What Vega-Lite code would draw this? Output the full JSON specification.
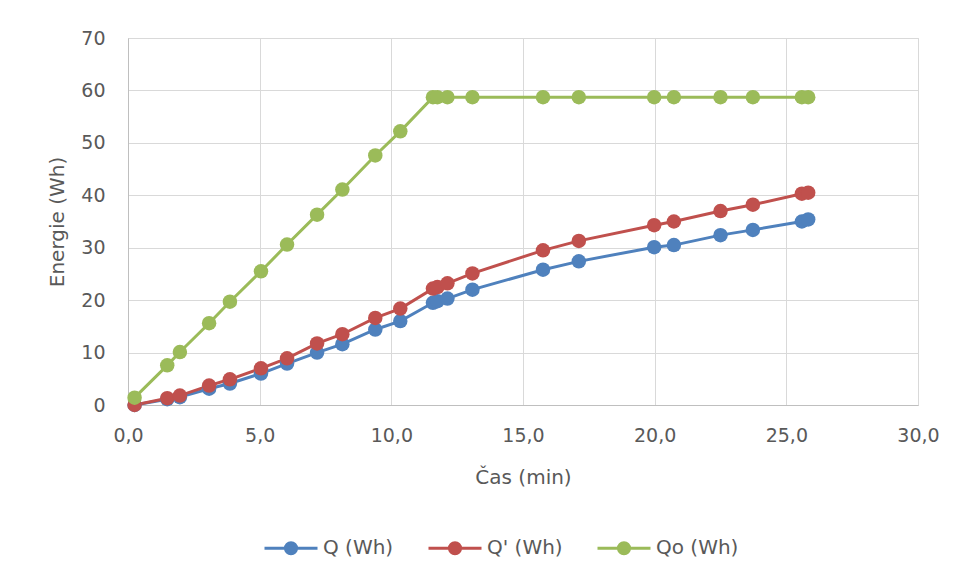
{
  "$schema": "https://vega.github.io/schema/vega-lite/v6.json",
  "width": 790,
  "height": 367,
  "autosize": {"type": "none"},
  "padding": {"left": 128, "top": 38, "right": 42, "bottom": 174},
  "background": "white",
  "config": {
    "font": "DejaVu Sans",
    "view": {"stroke": "#d9d9d9", "strokeWidth": 1},
    "axis": {
      "gridColor": "#d9d9d9",
      "gridWidth": 1,
      "domainColor": "#bfbfbf",
      "domainWidth": 1,
      "ticks": false,
      "labelFlush": false,
      "labelColor": "#595959",
      "labelFontSize": 19,
      "titleColor": "#595959",
      "titleFontSize": 20,
      "titleFontWeight": "normal"
    }
  },
  "data": {
    "values": [
      {"t": 0.25, "series": "Q (Wh)", "v": 0},
      {"t": 1.49, "series": "Q (Wh)", "v": 1.1},
      {"t": 1.97, "series": "Q (Wh)", "v": 1.5},
      {"t": 3.08, "series": "Q (Wh)", "v": 3.1},
      {"t": 3.87, "series": "Q (Wh)", "v": 4.1},
      {"t": 5.05, "series": "Q (Wh)", "v": 6.0},
      {"t": 6.04, "series": "Q (Wh)", "v": 7.9},
      {"t": 7.18, "series": "Q (Wh)", "v": 10.0},
      {"t": 8.14, "series": "Q (Wh)", "v": 11.6},
      {"t": 9.39, "series": "Q (Wh)", "v": 14.4},
      {"t": 10.34, "series": "Q (Wh)", "v": 16.0},
      {"t": 11.58, "series": "Q (Wh)", "v": 19.5},
      {"t": 11.75, "series": "Q (Wh)", "v": 19.8},
      {"t": 12.13, "series": "Q (Wh)", "v": 20.3},
      {"t": 13.08, "series": "Q (Wh)", "v": 22.0},
      {"t": 15.76, "series": "Q (Wh)", "v": 25.8},
      {"t": 17.12, "series": "Q (Wh)", "v": 27.4},
      {"t": 19.98, "series": "Q (Wh)", "v": 30.1},
      {"t": 20.73, "series": "Q (Wh)", "v": 30.5},
      {"t": 22.5, "series": "Q (Wh)", "v": 32.4},
      {"t": 23.73, "series": "Q (Wh)", "v": 33.4},
      {"t": 25.59, "series": "Q (Wh)", "v": 35.0},
      {"t": 25.83, "series": "Q (Wh)", "v": 35.4},
      {"t": 0.25, "series": "Q' (Wh)", "v": 0},
      {"t": 1.49, "series": "Q' (Wh)", "v": 1.3},
      {"t": 1.97, "series": "Q' (Wh)", "v": 1.8},
      {"t": 3.08, "series": "Q' (Wh)", "v": 3.7},
      {"t": 3.87, "series": "Q' (Wh)", "v": 4.9},
      {"t": 5.05, "series": "Q' (Wh)", "v": 7.0},
      {"t": 6.04, "series": "Q' (Wh)", "v": 8.9},
      {"t": 7.18, "series": "Q' (Wh)", "v": 11.75},
      {"t": 8.14, "series": "Q' (Wh)", "v": 13.5},
      {"t": 9.39, "series": "Q' (Wh)", "v": 16.6},
      {"t": 10.34, "series": "Q' (Wh)", "v": 18.4},
      {"t": 11.58, "series": "Q' (Wh)", "v": 22.2},
      {"t": 11.75, "series": "Q' (Wh)", "v": 22.5},
      {"t": 12.13, "series": "Q' (Wh)", "v": 23.2},
      {"t": 13.08, "series": "Q' (Wh)", "v": 25.1},
      {"t": 15.76, "series": "Q' (Wh)", "v": 29.5},
      {"t": 17.12, "series": "Q' (Wh)", "v": 31.3},
      {"t": 19.98, "series": "Q' (Wh)", "v": 34.3},
      {"t": 20.73, "series": "Q' (Wh)", "v": 35.0},
      {"t": 22.5, "series": "Q' (Wh)", "v": 37.0},
      {"t": 23.73, "series": "Q' (Wh)", "v": 38.2},
      {"t": 25.59, "series": "Q' (Wh)", "v": 40.3},
      {"t": 25.83, "series": "Q' (Wh)", "v": 40.5},
      {"t": 0.25, "series": "Qo (Wh)", "v": 1.4},
      {"t": 1.49, "series": "Qo (Wh)", "v": 7.56},
      {"t": 1.97, "series": "Qo (Wh)", "v": 10.1},
      {"t": 3.08, "series": "Qo (Wh)", "v": 15.6},
      {"t": 3.87, "series": "Qo (Wh)", "v": 19.7},
      {"t": 5.05, "series": "Qo (Wh)", "v": 25.5},
      {"t": 6.04, "series": "Qo (Wh)", "v": 30.6},
      {"t": 7.18, "series": "Qo (Wh)", "v": 36.3},
      {"t": 8.14, "series": "Qo (Wh)", "v": 41.1},
      {"t": 9.39, "series": "Qo (Wh)", "v": 47.6},
      {"t": 10.34, "series": "Qo (Wh)", "v": 52.2},
      {"t": 11.58, "series": "Qo (Wh)", "v": 58.7},
      {"t": 11.75, "series": "Qo (Wh)", "v": 58.7},
      {"t": 12.13, "series": "Qo (Wh)", "v": 58.7},
      {"t": 13.08, "series": "Qo (Wh)", "v": 58.7},
      {"t": 15.76, "series": "Qo (Wh)", "v": 58.7},
      {"t": 17.12, "series": "Qo (Wh)", "v": 58.7},
      {"t": 19.98, "series": "Qo (Wh)", "v": 58.7},
      {"t": 20.73, "series": "Qo (Wh)", "v": 58.7},
      {"t": 22.5, "series": "Qo (Wh)", "v": 58.7},
      {"t": 23.73, "series": "Qo (Wh)", "v": 58.7},
      {"t": 25.59, "series": "Qo (Wh)", "v": 58.7},
      {"t": 25.83, "series": "Qo (Wh)", "v": 58.7}
    ]
  },
  "encoding": {
    "x": {
      "field": "t",
      "type": "quantitative",
      "scale": {"domain": [0, 30], "nice": false, "zero": false},
      "axis": {
        "title": "Čas (min)",
        "values": [0, 5, 10, 15, 20, 25, 30],
        "labelExpr": "replace(format(datum.value, '.1f'), '.', ',')",
        "labelPadding": 21,
        "titleY": 78,
        "titleBaseline": "alphabetic"
      }
    },
    "y": {
      "field": "v",
      "type": "quantitative",
      "scale": {"domain": [0, 70], "nice": false},
      "axis": {
        "title": "Energie (Wh)",
        "values": [0, 10, 20, 30, 40, 50, 60, 70],
        "labelPadding": 23,
        "titleX": -65,
        "titleY": 183.5,
        "titleBaseline": "alphabetic"
      }
    },
    "color": {
      "field": "series",
      "type": "nominal",
      "scale": {
        "domain": ["Q (Wh)", "Q' (Wh)", "Qo (Wh)"],
        "range": ["#4f81bd", "#c0504d", "#9bbb59"]
      },
      "legend": {
        "title": null,
        "orient": "none",
        "direction": "horizontal",
        "legendX": 135,
        "legendY": 482,
        "padding": 0,
        "symbolType": "M-1,0L1,0M-0.21,0A0.21,0.21,0,1,1,0.21,0A0.21,0.21,0,1,1,-0.21,0Z",
        "symbolSize": 2809,
        "symbolStrokeWidth": 3,
        "symbolOpacity": 1,
        "labelFontSize": 20,
        "labelColor": "#595959",
        "labelOffset": 4,
        "columnPadding": 28
      }
    }
  },
  "layer": [
    {"mark": {"type": "line", "strokeWidth": 3}},
    {"mark": {"type": "point", "filled": true, "size": 210, "opacity": 1}}
  ]
}
